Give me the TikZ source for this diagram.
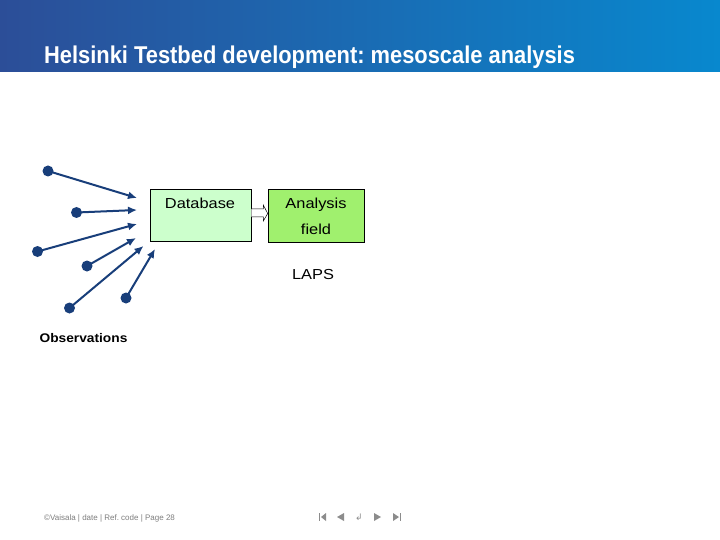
\documentclass[tikz,border=0pt]{standalone}
\usepackage{fontspec}
\setmainfont{Liberation Sans}
\newfontfamily\widefont[FakeStretch=1.13]{Liberation Sans}
\newfontfamily\obsfont[FakeStretch=1.1]{Liberation Sans}
\newfontfamily\titlefont[FakeStretch=0.9]{Liberation Sans}
\newfontfamily\symfont{DejaVu Sans}
\frenchspacing
\usetikzlibrary{arrows.meta,calc}
\definecolor{hdrL}{RGB}{44,78,152}
\definecolor{hdrR}{RGB}{8,136,206}
\definecolor{dbfill}{RGB}{204,255,204}
\definecolor{anfill}{RGB}{160,240,110}
\definecolor{obsblue}{RGB}{24,62,122}
\definecolor{navgray}{RGB}{140,140,140}
\tikzset{
  obsdot/.style={circle,fill=obsblue,inner sep=0pt,minimum size=11pt},
  obsarrow/.style={draw=obsblue,line width=2pt,-{Latex[length=9pt,width=8pt]}},
  boxnode/.style={draw=black,line width=0.6pt,inner sep=0pt},
  lbl/.style={font=\widefont\fontsize{14.5}{16}\selectfont,anchor=base,inner sep=0pt},
  navsym/.style={fill=navgray,draw=none}
}
\begin{document}
\begin{tikzpicture}[x=1pt,y=-1pt]
\useasboundingbox (0,0) rectangle (720,540);
\fill[white] (0,0) rectangle (720,540);
% header
\shade[left color=hdrL,right color=hdrR] (0,0) rectangle (720,72);
\node[anchor=base west,inner sep=0pt,text=white,font=\titlefont\fontsize{24.3}{26}\bfseries\frenchspacing] (title) at (44,64) {Helsinki Testbed development: mesoscale analysis};
% boxes
\node[boxnode,fill=dbfill,minimum width=101pt,minimum height=52pt] (db) at (200.5,215) {};
\node[boxnode,fill=anfill,minimum width=96pt,minimum height=53pt] (an) at (316,215.5) {};
\node[lbl] (dbt) at (200,208) {Database};
\node[lbl] (ant1) at (316,208) {Analysis};
\node[lbl] (ant2) at (316,234) {field};
\node[lbl] (laps) at (313,279) {LAPS};
% hollow block arrow between boxes
\draw[fill=white,line width=0.5pt]
  ($(db.east)+(0,-6)$) -- ($(db.east)+(12,-6)$) -- ($(db.east)+(12,-10)$)
  -- ($(an.west)+(0,-2)$)
  -- ($(db.east)+(12,6)$) -- ($(db.east)+(12,2)$) -- ($(db.east)+(0,2)$);
% observations
\node[obsdot] (o1) at (48,171) {};
\node[obsdot] (o2) at (76.5,212.5) {};
\node[obsdot] (o3) at (37.5,251.5) {};
\node[obsdot] (o4) at (87,266) {};
\node[obsdot] (o5) at (69.5,308) {};
\node[obsdot] (o6) at (126,298) {};
\coordinate (t1) at (137,198);
\coordinate (t2) at (137,210);
\coordinate (t3) at (137,224);
\coordinate (t4) at (136,238);
\coordinate (t5) at (143.5,246);
\coordinate (t6) at (155,249);
\foreach \i in {1,...,6} {\draw[obsarrow] (o\i.center) -- (t\i);}
\node[anchor=base,inner sep=0pt,font=\obsfont\fontsize{12.5}{14}\bfseries] (obs) at (83.5,342.5) {Observations};
% footer
\node[anchor=base west,inner sep=0pt,text=navgray!90!black,font=\fontsize{8}{9}\selectfont] (foot) at (44,520) {©Vaisala | date | Ref. code | Page 28};
% navigation symbols
\fill[navsym] (319,513) rectangle (320.3,521);
\fill[navsym] (321,517) -- (326,513) -- (326,521) -- cycle;
\fill[navsym] (337,517) -- (344,513) -- (344,521) -- cycle;
\node[inner sep=0pt,text=navgray,font=\symfont\fontsize{9}{10}\selectfont] (navmid) at (359,517) {↲};
\fill[navsym] (381,517) -- (374,513) -- (374,521) -- cycle;
\fill[navsym] (399,517) -- (393,513) -- (393,521) -- cycle;
\fill[navsym] (399.5,513) rectangle (400.8,521);
\end{tikzpicture}
\end{document}
